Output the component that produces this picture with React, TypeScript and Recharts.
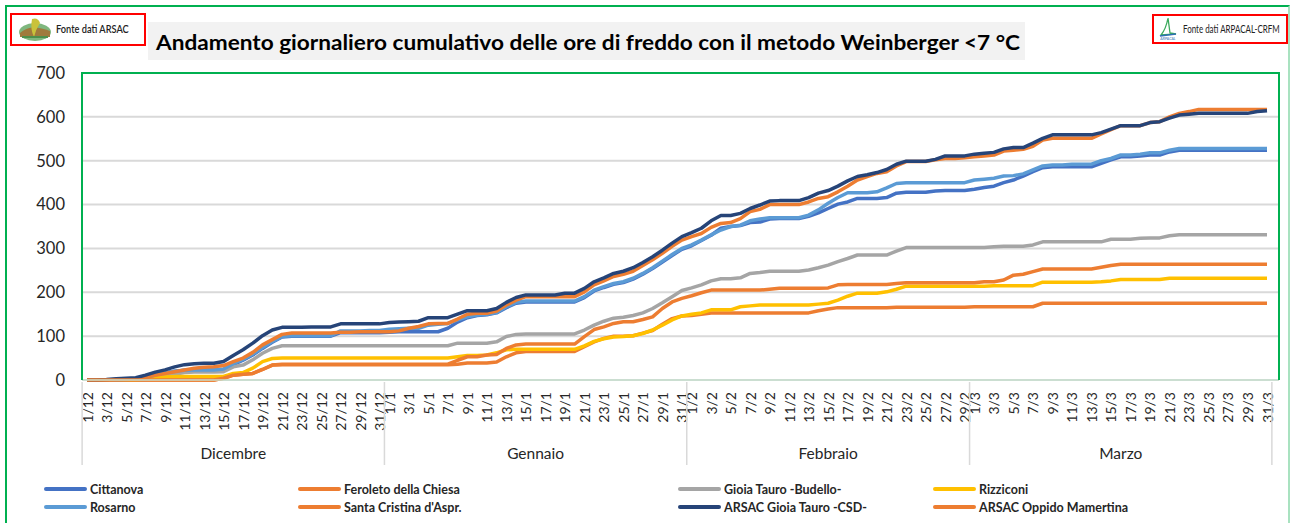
import React from 'react';
import { LineChart, Line, XAxis, YAxis, CartesianGrid } from 'recharts';

// months on the multi-level category axis
const months = [
  { name: 'Dicembre', num: 12, days: 31 },
  { name: 'Gennaio', num: 1, days: 31 },
  { name: 'Febbraio', num: 2, days: 29 },
  { name: 'Marzo', num: 3, days: 31 },
];

const dayLabels: string[] = months.flatMap((m) =>
  Array.from({ length: m.days }, (_, i) => `${i + 1}/${m.num}`)
);

const yTicks = [0, 100, 200, 300, 400, 500, 600, 700];

// cumulative chill hours (Weinberger < 7 °C), 1/12 -> 31/3
const cittanova = [
  0, 0, 0, 0, 1, 2, 5, 12, 16, 20, 22, 23, 23, 23, 24, 35, 45, 57, 72, 86, 98, 100, 100, 100, 100, 100, 108, 108, 108, 108, 108,
  109, 110, 110, 110, 110, 110, 118, 132, 142, 147, 149, 153, 165, 175, 178, 178, 178, 178, 178, 178, 188, 203, 211, 218, 222, 230, 241, 254, 269, 284, 298,
  306, 318, 330, 346, 350, 352, 359, 360, 367, 368, 368, 368, 373, 381, 391, 401, 406, 414, 414, 414, 416, 426, 428, 428, 428, 431, 432, 432, 432,
  435, 439, 442, 450, 456, 465, 475, 484, 486, 486, 486, 486, 486, 494, 502, 509, 509, 511, 513, 513, 520, 524, 524, 524, 524, 524, 524, 524, 524, 524, 524,
];
const feroleto = [
  0, 0, 0, 0, 0, 0, 0, 0, 0, 0, 0, 0, 0, 0, 4, 11, 13, 15, 24, 34, 35, 35, 35, 35, 35, 35, 35, 35, 35, 35, 35,
  35, 35, 35, 35, 35, 35, 35, 36, 39, 39, 39, 41, 53, 62, 65, 65, 65, 65, 65, 65, 76, 87, 95, 100, 100, 101, 107, 113, 127, 140, 146,
  147, 150, 153, 153, 153, 153, 153, 153, 153, 153, 153, 153, 153, 158, 162, 165, 165, 165, 165, 165, 165, 166, 166, 166, 166, 166, 166, 166, 166,
  167, 167, 167, 167, 167, 167, 167, 175, 175, 175, 175, 175, 175, 175, 175, 175, 175, 175, 175, 175, 175, 175, 175, 175, 175, 175, 175, 175, 175, 175, 175,
];
const gioiaBudello = [
  0, 0, 0, 0, 0, 0, 1, 3, 8, 13, 17, 18, 18, 18, 19, 30, 34, 46, 61, 72, 78, 78, 78, 78, 78, 78, 78, 78, 78, 78, 78,
  78, 78, 78, 78, 78, 78, 78, 84, 84, 84, 84, 87, 99, 104, 105, 105, 105, 105, 105, 105, 114, 125, 134, 141, 143, 147, 153, 163, 176, 190, 204,
  210, 217, 226, 231, 231, 233, 243, 245, 248, 248, 248, 248, 251, 256, 262, 270, 277, 285, 285, 285, 285, 294, 302, 302, 302, 302, 302, 302, 302,
  302, 302, 304, 305, 305, 305, 308, 315, 315, 315, 315, 315, 315, 315, 321, 321, 321, 323, 324, 324, 329, 331, 331, 331, 331, 331, 331, 331, 331, 331, 331,
];
const rizziconi = [
  0, 0, 0, 0, 0, 0, 2, 5, 7, 8, 8, 8, 8, 8, 8, 15, 17, 27, 42, 49, 50, 50, 50, 50, 50, 50, 50, 50, 50, 50, 50,
  50, 50, 50, 50, 50, 50, 50, 53, 56, 56, 57, 62, 69, 70, 70, 70, 70, 70, 70, 70, 78, 88, 94, 98, 99, 101, 106, 114, 125, 137, 146,
  150, 153, 160, 160, 160, 167, 169, 171, 171, 171, 171, 171, 171, 173, 175, 182, 191, 198, 198, 198, 201, 207, 214, 214, 214, 214, 214, 214, 214,
  214, 214, 215, 215, 215, 215, 215, 223, 223, 223, 223, 223, 223, 224, 226, 229, 229, 229, 229, 229, 232, 232, 232, 232, 232, 232, 232, 232, 232, 232, 232,
];
const rosarno = [
  0, 0, 0, 0, 1, 2, 5, 12, 16, 20, 22, 23, 23, 23, 25, 37, 47, 59, 74, 88, 99, 101, 101, 101, 101, 101, 112, 112, 112, 113, 113,
  116, 117, 118, 118, 125, 127, 129, 137, 144, 148, 150, 154, 167, 177, 180, 180, 180, 180, 180, 180, 190, 205, 213, 220, 224, 232, 243, 256, 271, 286, 300,
  308, 319, 331, 342, 350, 353, 363, 367, 370, 370, 370, 370, 376, 388, 403, 416, 427, 427, 427, 429, 438, 448, 450, 450, 450, 450, 450, 450, 450,
  456, 458, 460, 465, 466, 470, 479, 488, 490, 490, 492, 492, 492, 500, 505, 513, 513, 515, 518, 518, 524, 528, 528, 528, 528, 528, 528, 528, 528, 528, 528,
];
const santaCristina = [
  0, 0, 0, 1, 2, 3, 6, 11, 15, 19, 23, 27, 29, 30, 33, 42, 50, 63, 80, 92, 104, 107, 107, 107, 107, 107, 109, 109, 110, 110, 110,
  110, 112, 118, 122, 128, 129, 129, 139, 150, 152, 152, 157, 171, 182, 190, 190, 190, 190, 190, 190, 201, 217, 226, 236, 241, 248, 261, 274, 289, 305, 319,
  327, 334, 348, 357, 359, 368, 384, 389, 400, 400, 400, 400, 406, 414, 418, 429, 442, 456, 464, 471, 475, 488, 498, 498, 498, 502, 505, 505, 507,
  509, 511, 513, 522, 524, 526, 533, 547, 551, 551, 551, 551, 551, 561, 571, 580, 580, 580, 587, 589, 600, 608, 612, 617, 617, 617, 617, 617, 617, 617, 617,
];
const arsacGioiaTauro = [
  0, 0, 1, 3, 4, 5, 11, 18, 23, 30, 35, 37, 38, 38, 42, 56, 69, 84, 101, 114, 120, 120, 120, 121, 121, 121, 128, 128, 128, 128, 128,
  131, 132, 133, 134, 142, 142, 142, 150, 158, 158, 158, 163, 177, 188, 194, 194, 194, 194, 198, 198, 209, 224, 233, 243, 248, 256, 268, 281, 296, 312, 327,
  336, 346, 363, 375, 375, 380, 391, 399, 408, 409, 409, 409, 416, 426, 432, 442, 454, 464, 468, 473, 480, 492, 499, 499, 499, 503, 511, 511, 511,
  515, 517, 519, 527, 530, 530, 540, 551, 559, 559, 559, 559, 559, 564, 572, 580, 580, 580, 587, 589, 597, 604, 606, 608, 608, 608, 608, 608, 608, 612, 614,
];
const arsacOppido = [
  0, 0, 0, 0, 0, 0, 0, 0, 0, 0, 0, 0, 0, 0, 4, 11, 13, 15, 24, 34, 36, 36, 36, 36, 36, 36, 36, 36, 36, 36, 36,
  36, 36, 36, 36, 36, 36, 36, 45, 53, 53, 57, 58, 72, 80, 82, 82, 82, 82, 82, 82, 99, 115, 121, 129, 133, 133, 138, 144, 163, 178, 186,
  192, 199, 205, 205, 205, 205, 205, 205, 207, 209, 209, 209, 209, 209, 210, 217, 218, 218, 218, 218, 218, 220, 222, 222, 222, 222, 222, 222, 222,
  222, 224, 224, 228, 239, 241, 247, 253, 253, 253, 253, 253, 253, 257, 261, 264, 264, 264, 264, 264, 264, 264, 264, 264, 264, 264, 264, 264, 264, 264, 264,
];

const series = [
  { key: 'cittanova', name: 'Cittanova', color: '#4472C4', values: cittanova },
  { key: 'feroleto', name: 'Feroleto della Chiesa', color: '#ED7D31', values: feroleto },
  { key: 'gioiaBudello', name: 'Gioia Tauro -Budello-', color: '#A5A5A5', values: gioiaBudello },
  { key: 'rizziconi', name: 'Rizziconi', color: '#FFC000', values: rizziconi },
  { key: 'rosarno', name: 'Rosarno', color: '#5B9BD5', values: rosarno },
  { key: 'santaCristina', name: "Santa Cristina d'Aspr.", color: '#ED7D31', values: santaCristina },
  { key: 'arsacGioiaTauro', name: 'ARSAC Gioia Tauro -CSD-', color: '#264478', values: arsacGioiaTauro },
  { key: 'arsacOppido', name: 'ARSAC Oppido Mamertina', color: '#ED7D31', values: arsacOppido },
];

const data = dayLabels.map((day, i) => {
  const row: Record<string, string | number> = { day };
  series.forEach((s) => (row[s.key] = s.values[i]));
  return row;
});

// chart geometry
const W = 1291;
const H = 523;
const margin = { top: 73, right: 12, bottom: 53, left: 0 };
const yAxisWidth = 82;
const xPad = { left: 5, right: 12 };
const plotLeft = margin.left + yAxisWidth;
const plotRight = W - margin.right;
const step = (plotRight - plotLeft - xPad.left - xPad.right) / (dayLabels.length - 1);

const textColor = '#262626';
const dividerColor = '#D9D9D9';

const DayTick = (props: any) => {
  const { x, y, payload } = props;
  const idx: number = payload.index ?? props.index;
  const label: string = payload.value;
  const [d, m] = label.split('/').map(Number);
  const month = months.find((mm) => mm.num === m)!;
  const half = step / 2;
  const parts: React.ReactNode[] = [];
  if (d % 2 === 1) {
    parts.push(
      <text
        key="t"
        x={x}
        y={y + 10}
        transform={`rotate(-90 ${x} ${y + 10})`}
        textAnchor="end"
        dominantBaseline="central"
        fontSize={14}
        fill={textColor}
      >
        {label}
      </text>
    );
  }
  if (d === 1) {
    parts.push(<line key="l" x1={x - half} x2={x - half} y1={y} y2={y + 83} stroke={dividerColor} strokeWidth={1.5} />);
  }
  if (idx === dayLabels.length - 1) {
    parts.push(<line key="r" x1={x + half} x2={x + half} y1={y} y2={y + 83} stroke={dividerColor} strokeWidth={1.5} />);
  }
  if (d === Math.ceil(month.days / 2)) {
    parts.push(
      <text key="m" x={x} y={y + 77} textAnchor="middle" fontSize={15.5} fill={textColor}>
        {month.name}
      </text>
    );
  }
  return <g>{parts}</g>;
};

const legendCols = [44, 298, 678, 933];
const legendRows = [489, 507];

export default function App() {
  return (
    <div
      style={{
        position: 'absolute',
        left: 0,
        top: 0,
        width: W,
        height: H,
        overflow: 'hidden',
        background: '#fff',
        fontFamily: 'Lato, "Noto Sans", sans-serif',
      }}
    >
      {/* outer frame */}
      <div
        style={{
          position: 'absolute',
          left: 5,
          top: 5,
          width: 1285,
          height: 540,
          boxSizing: 'border-box',
          borderLeft: '2px solid #00B050',
          borderTop: '2px solid #00B050',
          borderRight: '2px solid #A9E2C0',
        }}
      />

      <LineChart width={W} height={H} data={data} margin={margin} style={{ position: 'absolute', left: 0, top: 0 }}>
        <CartesianGrid vertical={false} stroke="#D9D9D9" strokeWidth={2} />
        <XAxis
          dataKey="day"
          scale="point"
          interval={0}
          padding={xPad}
          height={90}
          tickLine={false}
          tickSize={0}
          axisLine={{ stroke: '#C6DFCE', strokeWidth: 1.5 }}
          tick={<DayTick />}
        />
        <YAxis
          domain={[0, 700]}
          ticks={yTicks}
          width={yAxisWidth}
          axisLine={false}
          tickLine={false}
          tickSize={0}
          tickMargin={17}
          tick={{ fontSize: 16.5, fill: textColor }}
        />
        {series.map((s) => (
          <Line
            key={s.key}
            type="linear"
            dataKey={s.key}
            name={s.name}
            stroke={s.color}
            strokeWidth={3.5}
            strokeLinejoin="round"
            dot={false}
            isAnimationActive={false}
          />
        ))}
      </LineChart>

      {/* plot area border */}
      <div
        style={{
          position: 'absolute',
          left: plotLeft - 1,
          top: margin.top - 1,
          width: plotRight - plotLeft + 2,
          height: H - margin.top - 143 + 1,
          boxSizing: 'border-box',
          borderLeft: '2px solid #00B050',
          borderTop: '2px solid #00B050',
          borderRight: '2px solid #00B050',
          pointerEvents: 'none',
        }}
      />

      {/* header: title and source boxes */}
      <svg style={{ position: 'absolute', left: 0, top: 0 }} width={W} height={70}>
        <rect x={148} y={22} width={877} height={38} fill="#F2F2F2" />
        <text
          x={156}
          y={50}
          fontSize={21}
          fontWeight={700}
          fill="#000"
          textLength={864}
          lengthAdjust="spacingAndGlyphs"
        >
          Andamento giornaliero cumulativo delle ore di freddo con il metodo Weinberger &lt;7 °C
        </text>

        <rect x={11} y={14} width={134} height={31} fill="#fff" stroke="#FF0000" strokeWidth={2} />
        <g transform="translate(18 17)">
          <ellipse cx={17} cy={15} rx={16} ry={9} fill="#7FB77E" />
          <path d="M2 16 Q12 6 32 14 L32 20 L2 20 Z" fill="#A07A3C" />
          <path d="M14 2 Q20 0 22 6 Q18 12 16 20 Q12 12 14 2 Z" fill="#C9C23A" />
          <path d="M4 20 L30 20" stroke="#4E8F4B" strokeWidth={2} />
        </g>
        <text transform="translate(56 33) scale(0.88 1)" fontSize={10.5} fontWeight={600} fill="#222">
          Fonte dati ARSAC
        </text>

        <rect x={1153} y={15} width={134} height={28} fill="#fff" stroke="#FF0000" strokeWidth={2} />
        <g transform="translate(1158 17)">
          <path d="M10 1 L12 16 L18 17 L3 18 Q8 12 10 1 Z" fill="none" stroke="#3BAA5C" strokeWidth={1.3} />
          <path d="M2 19 L18 17" stroke="#2F6FB5" strokeWidth={1.3} />
          <text x={10} y={23} fontSize={3.5} textAnchor="middle" fill="#2F6FB5">ARPACAL</text>
        </g>
        <text transform="translate(1183 33) scale(0.76 1)" fontSize={10.5} fill="#222">
          Fonte dati ARPACAL-CRFM
        </text>
      </svg>

      {/* legend */}
      {series.map((s, i) => (
        <div
          key={s.key}
          style={{
            position: 'absolute',
            left: legendCols[i % 4],
            top: legendRows[Math.floor(i / 4)] - 9,
            height: 18,
            display: 'flex',
            alignItems: 'center',
            whiteSpace: 'nowrap',
          }}
        >
          <span style={{ display: 'inline-block', width: 43, height: 4, borderRadius: 2, background: s.color }} />
          <span style={{ marginLeft: 3, fontSize: 12.5, fontWeight: 700, color: textColor }}>{s.name}</span>
        </div>
      ))}
    </div>
  );
}
